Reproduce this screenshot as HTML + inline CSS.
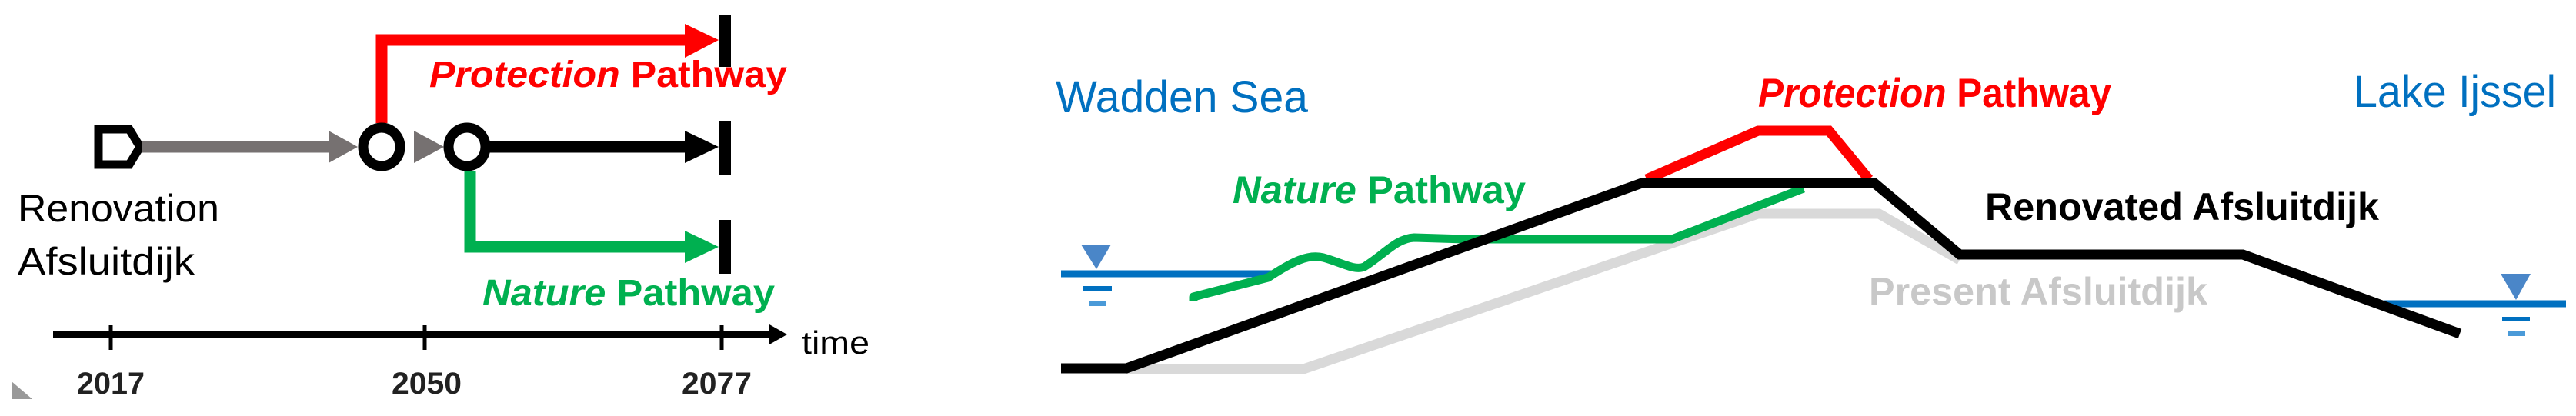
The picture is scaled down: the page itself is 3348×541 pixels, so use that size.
<!DOCTYPE html>
<html><head><style>html,body{margin:0;padding:0;background:#fff;}svg{display:block}</style></head>
<body>
<svg width="3348" height="541" viewBox="0 0 3348 541" xmlns="http://www.w3.org/2000/svg" font-family="Liberation Sans, sans-serif">
<!-- LEFT PANEL -->
<polyline points="496,160 496,52 895,52" fill="none" stroke="#ff0000" stroke-width="15"/>
<polygon points="890,31 934,52 890,75" fill="#ff0000"/>
<rect x="935" y="19" width="15" height="68" fill="#000"/>
<path d="M128,168 H168 L182,191 L168,214 H128 Z" fill="none" stroke="#000" stroke-width="11"/>
<line x1="185" y1="191" x2="430" y2="191" stroke="#767171" stroke-width="15"/>
<polygon points="427,170 465,191 427,212" fill="#767171"/>
<polygon points="538,170 577,191 538,212" fill="#767171"/>
<ellipse cx="496" cy="191" rx="24" ry="25" fill="#fff" stroke="#000" stroke-width="13"/>
<ellipse cx="607" cy="191" rx="24" ry="25" fill="#fff" stroke="#000" stroke-width="13"/>
<line x1="632" y1="191" x2="895" y2="191" stroke="#000" stroke-width="15"/>
<polygon points="890,170 934,191 890,212" fill="#000"/>
<rect x="935" y="158" width="15" height="69" fill="#000"/>
<polyline points="611,222 611,321 895,321" fill="none" stroke="#00b050" stroke-width="15"/>
<polygon points="890,300 934,321 890,342" fill="#00b050"/>
<rect x="935" y="286" width="15" height="70" fill="#000"/>
<text x="558" y="113" font-size="48" font-weight="bold" fill="#ff0000" textLength="465" lengthAdjust="spacingAndGlyphs"><tspan font-style="italic">Protection</tspan> Pathway</text>
<text x="627" y="397" font-size="48" font-weight="bold" fill="#00b050" textLength="380" lengthAdjust="spacingAndGlyphs"><tspan font-style="italic">Nature</tspan> Pathway</text>
<text x="23" y="288" font-size="50" fill="#000" textLength="262" lengthAdjust="spacingAndGlyphs">Renovation</text>
<text x="23" y="357" font-size="50" fill="#000" textLength="230" lengthAdjust="spacingAndGlyphs">Afsluitdijk</text>
<line x1="69" y1="435" x2="1005" y2="435" stroke="#000" stroke-width="8"/>
<polygon points="1000,422 1023,435 1000,448" fill="#000"/>
<line x1="144" y1="423" x2="144" y2="455" stroke="#000" stroke-width="5"/>
<line x1="552" y1="423" x2="552" y2="455" stroke="#000" stroke-width="5"/>
<line x1="938" y1="423" x2="938" y2="455" stroke="#000" stroke-width="5"/>
<text x="1042" y="460" font-size="42" fill="#000" textLength="88" lengthAdjust="spacingAndGlyphs">time</text>
<text x="100" y="512" font-size="40" font-weight="bold" fill="#222" textLength="88" lengthAdjust="spacingAndGlyphs">2017</text>
<text x="509" y="512" font-size="40" font-weight="bold" fill="#222" textLength="91" lengthAdjust="spacingAndGlyphs">2050</text>
<text x="886" y="512" font-size="40" font-weight="bold" fill="#222" textLength="91" lengthAdjust="spacingAndGlyphs">2077</text>
<polygon points="15,496 42,519 15,519" fill="#999"/>

<!-- RIGHT PANEL -->
<text x="1372" y="146" font-size="58" fill="#0070c0" textLength="328" lengthAdjust="spacingAndGlyphs">Wadden Sea</text>
<text x="2285" y="139" font-size="53" font-weight="bold" fill="#ff0000" textLength="459" lengthAdjust="spacingAndGlyphs"><tspan font-style="italic">Protection</tspan> Pathway</text>
<text x="3059" y="139" font-size="58" fill="#0070c0" textLength="263" lengthAdjust="spacingAndGlyphs">Lake Ijssel</text>
<text x="1602" y="264" font-size="50" font-weight="bold" fill="#00b050" textLength="381" lengthAdjust="spacingAndGlyphs"><tspan font-style="italic">Nature</tspan> Pathway</text>
<text x="2580" y="286" font-size="50" font-weight="bold" fill="#000" textLength="512" lengthAdjust="spacingAndGlyphs">Renovated Afsluitdijk</text>
<text x="2429" y="396" font-size="50" font-weight="bold" fill="#c8c8c8" textLength="440" lengthAdjust="spacingAndGlyphs">Present Afsluitdijk</text>
<polyline points="1464,480 1694,480 2285,278 2442,278 2547,338" fill="none" stroke="#d9d9d9" stroke-width="13"/>
<polyline points="2140,233 2285,170 2377,170 2429,233" fill="none" stroke="#ff0000" stroke-width="13"/>
<line x1="1379" y1="356" x2="1654" y2="356" stroke="#0070c0" stroke-width="9"/>
<polygon points="1405,318 1444,318 1425,350" fill="#4a86c8"/>
<rect x="1407" y="372" width="38" height="6" fill="#0070c0"/>
<rect x="1415" y="392" width="22" height="6" fill="#4a9ad8"/>
<line x1="3099" y1="395" x2="3335" y2="395" stroke="#0070c0" stroke-width="9"/>
<polygon points="3250,356 3289,356 3270,390" fill="#4a86c8"/>
<rect x="3252" y="412" width="36" height="6" fill="#0070c0"/>
<rect x="3260" y="431" width="22" height="6" fill="#4a9ad8"/>
<path d="M1551,392 L1551,386 L1648,361 C1680,340 1700,330 1720,335 C1745,342 1760,352 1773,347 C1800,330 1815,310 1838,309 L1904,311 L2173,311 L2344,245" fill="none" stroke="#00b050" stroke-width="11" stroke-linejoin="round"/>
<polyline points="1379,479 1464,479 2134,238 2436,238 2547,331 2915,331 3197,434" fill="none" stroke="#000" stroke-width="13"/>
</svg>
</body></html>
